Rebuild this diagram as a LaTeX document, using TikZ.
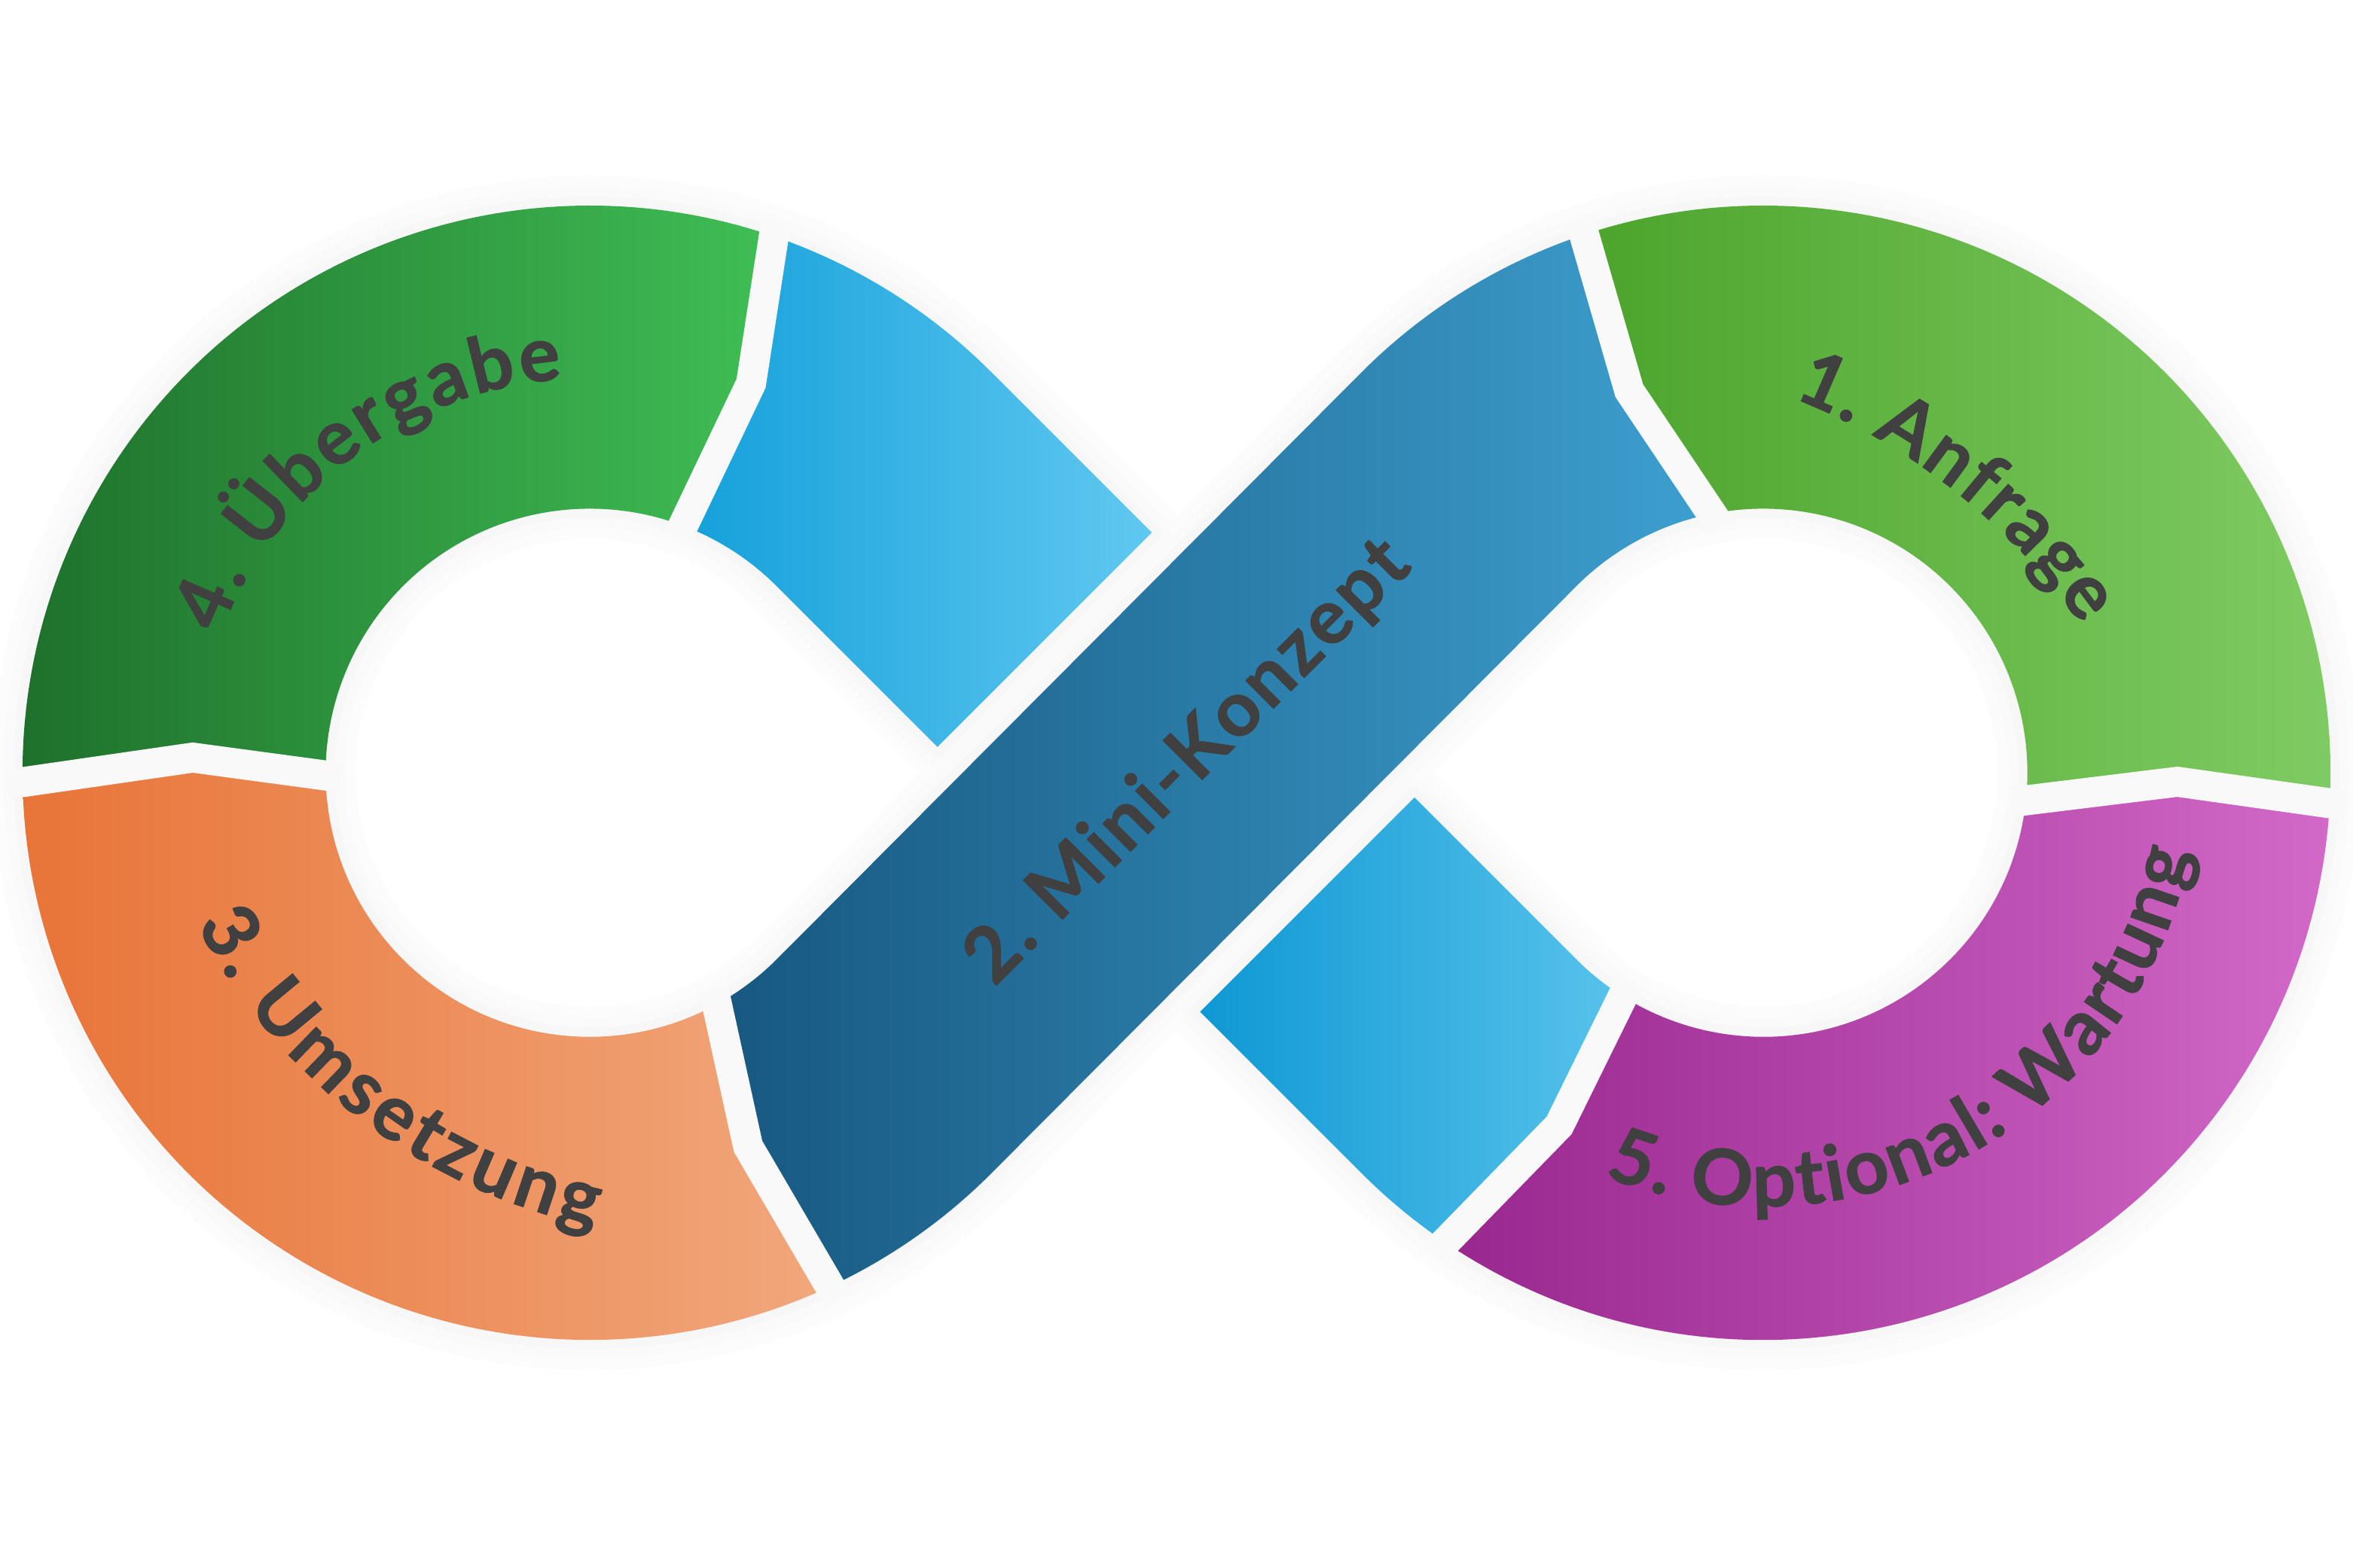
\documentclass[tikz,border=0pt]{standalone}
\usepackage{fontspec}
\setmainfont{Lato}
\newfontfamily\labfam{Lato}[BoldFeatures={FakeBold=1.2}]
\usetikzlibrary{calc,decorations.text}
\definecolor{txt}{HTML}{404040}
\definecolor{orL}{HTML}{E87438}\definecolor{orR}{HTML}{F1A87D}
\definecolor{grL}{HTML}{1E702B}\definecolor{grR}{HTML}{40BE55}
\definecolor{bdL}{HTML}{175880}\definecolor{bdR}{HTML}{3EA0D0}
\definecolor{lbL}{HTML}{14A0DA}\definecolor{lbR}{HTML}{60C8F0}
\definecolor{lcL}{HTML}{0F98D4}\definecolor{lcR}{HTML}{58C3EB}
\definecolor{anL}{HTML}{4CA42C}\definecolor{anR}{HTML}{80CC64}
\definecolor{puL}{HTML}{98268E}\definecolor{puR}{HTML}{D269C8}
\newcommand\labfont{\labfam\fontsize{29pt}{34pt}\selectfont\bfseries}
\tikzset{
  haloA/.style={draw=black!1.2, line width=8mm, line join=round},
  haloB/.style={draw=black!2, line width=5mm, line join=round},
  haloC/.style={draw=black!3, line width=2.4mm, line join=round},
  gapline/.style={draw=black!2.5, line width=4mm, line join=miter},
  curvetext/.style={decorate, decoration={text along path, text color=txt,
      text align=fit to path, text={|\labfont|#1}}}
}
\begin{document}
\begin{tikzpicture}[x=0.2mm, y=-0.2mm]
\fill[white] (0,0) rectangle (1568,1045);
\useasboundingbox (0,0) rectangle (1568,1045);
\coordinate (CL) at (393,515);
\coordinate (CR) at (1175,515);
% piece outlines (display coordinates, y downwards)
\def\pOrange{($(CL)+(64.8:378)$) arc[start angle=64.8, end angle=178.86, radius=378] -- (128.4,504.9) -- ($(CL)+(178.9:176)$) arc[start angle=178.9, end angle=60.2, radius=176] -- (498.5,764) -- cycle}
\def\pGreen{($(CL)+(178.86:378)$) arc[start angle=178.86, end angle=288.67, radius=378] -- (500.5,255.5) -- ($(CL)+(290.4:176)$) arc[start angle=290.4, end angle=178.9, radius=176] -- (128.4,504.9) -- cycle}
\def\pLBup{($(CL)+(288.67:378)$) arc[start angle=288.67, end angle=315, radius=378] -- (767.55,354.95) -- (624.7,497.8) -- ($(CL)+(315:176)$) arc[start angle=315, end angle=290.4, radius=176] -- (500.5,255.5) -- cycle}
\def\pBand{($(CL)+(64.8:378)$) arc[start angle=64.8, end angle=45, radius=378] -- ($(CR)+(225:176)$) arc[start angle=225, end angle=260.2, radius=176] -- (1085.7,260.4) -- ($(CR)+(251.65:378)$) arc[start angle=251.65, end angle=225, radius=378] -- ($(CL)+(45:176)$) arc[start angle=45, end angle=60.2, radius=176] -- (498.5,764) -- cycle}
\def\pAnfrage{($(CR)+(3.21:378)$) arc[start angle=3.21, end angle=-108.35, radius=378] -- (1085.7,260.4) -- ($(CR)+(-99.8:176)$) arc[start angle=-99.8, end angle=6.8, radius=176] -- (1451,521) -- cycle}
\def\pPurple{($(CR)+(124.37:378)$) arc[start angle=124.37, end angle=3.21, radius=378] -- (1451,521) -- ($(CR)+(6.8:176)$) arc[start angle=6.8, end angle=122.5, radius=176] -- (1039,750) -- cycle}
\def\pLBlow{(942.55,531.45) -- ($(CR)+(135:176)$) arc[start angle=135, end angle=122.5, radius=176] -- (1039,750) -- ($(CR)+(124.37:378)$) arc[start angle=124.37, end angle=135, radius=378] -- (799.7,674.3) -- cycle}
\newcommand\allpieces[1]{%
  \path[#1] \pOrange; \path[#1] \pGreen; \path[#1] \pLBup; \path[#1] \pBand;
  \path[#1] \pAnfrage; \path[#1] \pPurple; \path[#1] \pLBlow;}
% soft halo
\allpieces{haloA}
\allpieces{haloB}
\allpieces{haloC}
% pieces
\shade[left color=orL, right color=orR] \pOrange;
\shade[left color=grL, right color=grR] \pGreen;
\shade[left color=lbL, right color=lbR] \pLBup;
\shade[left color=lcL, right color=lcR] \pLBlow;
\shade[left color=anL, right color=anR] \pAnfrage;
\shade[left color=puL, right color=puR] \pPurple;
\shade[left color=bdL, right color=bdR] \pBand;
% arrow-shaped cuts between the pieces
\path[gapline] ($(CL)+(64.8:388)$) -- (498.5,764) -- ($(CL)+(60.2:166)$);
\path[gapline] ($(CL)+(178.86:388)$) -- (128.4,504.9) -- ($(CL)+(178.9:166)$);
\path[gapline] ($(CL)+(288.67:388)$) -- (500.5,255.5) -- ($(CL)+(290.4:166)$);
\path[gapline] ($(CR)+(124.37:388)$) -- (1039,750) -- ($(CR)+(122.5:166)$);
\path[gapline] ($(CR)+(3.21:388)$) -- (1451,521) -- ($(CR)+(6.8:166)$);
\path[gapline] ($(CR)+(251.65:388)$) -- (1085.7,260.4) -- ($(CR)+(260.2:166)$);
% labels
\coordinate (CU) at (477,436);
\coordinate (CA) at (1039,660.5);
\path[curvetext={4. Übergabe}] ($(CL)+(200.5:263)$) arc[start angle=200.5, end angle=266, radius=263];
\path[curvetext={3. Umsetzung}] ($(CU)+(152.5:390)$) arc[start angle=152.5, end angle=102, radius=390];
\path[curvetext={1. Anfrage}] ($(CA)+(-68.5:425)$) arc[start angle=-68.5, end angle=-35, radius=425];
\path[curvetext={5. Optional: Wartung}] ($(CR)+(111.5:289)$) arc[start angle=111.5, end angle=10.5, radius=289];
\coordinate (MK1) at (662.7,658);
\coordinate (MK2) at (942,378.7);
\path[curvetext={2. Mini-Konzept}] (MK1) -- (MK2);
\end{tikzpicture}
\end{document}
